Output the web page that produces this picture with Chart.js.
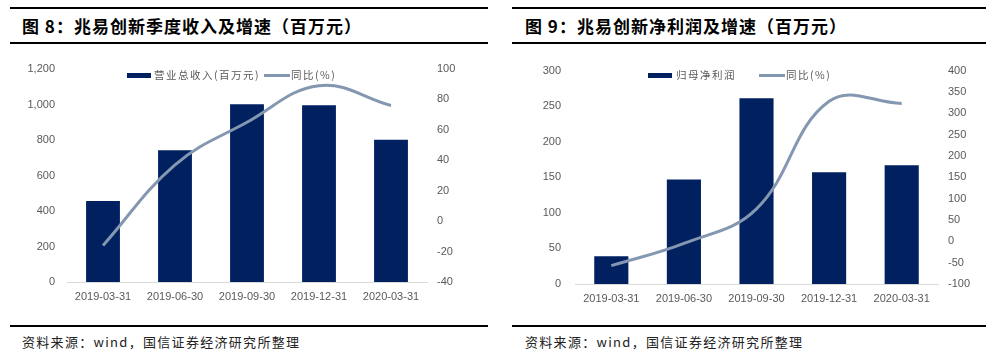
<!DOCTYPE html>
<html><head><meta charset="utf-8">
<script src="https://cdn.jsdelivr.net/npm/chart.js@4/dist/chart.umd.min.js"></script>
<style>
html,body{margin:0;padding:0;background:#fff;}
body{width:986px;height:354px;position:relative;overflow:hidden;font-family:"Noto Sans CJK SC","Liberation Sans",sans-serif;}
.hl{position:absolute;height:2px;background:#000;}
.title{position:absolute;font-weight:bold;font-size:17px;letter-spacing:1px;color:#000;line-height:20px;white-space:nowrap;}
.foot{position:absolute;font-size:13px;color:#222;line-height:16px;white-space:nowrap;letter-spacing:1.3px;}
.cv{position:absolute;top:50px;width:493px;height:270px;}
.lg{position:absolute;font-size:10.5px;color:#595959;line-height:14px;white-space:nowrap;letter-spacing:1.5px;}
.sw{position:absolute;}
</style></head>
<body>
<div class="hl" style="left:10px;width:478px;top:7px"></div>
<div class="hl" style="left:10px;width:478px;top:42px"></div>
<div class="hl" style="left:512px;width:474px;top:7px"></div>
<div class="hl" style="left:512px;width:474px;top:42px"></div>
<div class="hl" style="left:10px;width:478px;top:325px"></div>
<div class="hl" style="left:512px;width:474px;top:325px"></div>
<div class="title" style="left:22px;top:16px">图 8：兆易创新季度收入及增速（百万元）</div>
<div class="title" style="left:525px;top:16px">图 9：兆易创新净利润及增速（百万元）</div>
<div class="foot" style="left:22px;top:334px">资料来源：wind，国信证券经济研究所整理</div>
<div class="foot" style="left:525px;top:334px">资料来源：wind，国信证券经济研究所整理</div>

<div class="cv" style="left:0px"><canvas id="c1" width="493" height="270"></canvas></div>
<div class="cv" style="left:493px"><canvas id="c2" width="493" height="270"></canvas></div>

<div class="sw" style="left:127px;top:73px;width:24px;height:5px;background:#002060"></div>
<div class="lg" style="left:154px;top:68px">营业总收入(百万元)</div>
<div class="sw" style="left:264px;top:74px;width:26px;height:3px;background:#8497B0"></div>
<div class="lg" style="left:291px;top:68px">同比(%)</div>

<div class="sw" style="left:648px;top:73px;width:24px;height:5px;background:#002060"></div>
<div class="lg" style="left:676px;top:68px">归母净利润</div>
<div class="sw" style="left:759px;top:74px;width:26px;height:3px;background:#8497B0"></div>
<div class="lg" style="left:786px;top:68px">同比(%)</div>

<script>
const categories = ['2019-03-31','2019-06-30','2019-09-30','2019-12-31','2020-03-31'];
const revenue = [456, 742, 1001, 996, 802];
const revenueYoY = [-16, 37, 65, 89, 76];
const profit = [39, 147, 261, 157, 167];
const profitYoY = [-57, -5, 76, 328, 323];
const revenueLabel = '营业总收入(百万元)';
const profitLabel = '归母净利润';
const yoyLabel = '同比(%)';

const BAR = '#002060', LINE = '#8497B0', TXT = '#595959';
const tickFont = {family:'"Liberation Sans", Arial, sans-serif', size:11};

function makeChart(id, barData, barLabel, lineData, cfg){
  const ctx = document.getElementById(id);
  return new Chart(ctx, {
    type:'bar',
    data:{
      labels:categories,
      datasets:[
        {type:'line', label:yoyLabel, data:lineData, yAxisID:'y2', borderColor:LINE, borderWidth:3,
         pointRadius:0, tension:0.4, fill:false, order:0},
        {type:'bar', label:barLabel, data:barData, yAxisID:'y', backgroundColor:BAR,
         categoryPercentage:1, barPercentage:0.47, order:1}
      ]
    },
    options:{
      responsive:false, animation:false, devicePixelRatio:1,
      layout:{padding:{top:cfg.top, bottom:cfg.bottom, left:0, right:0}},
      plugins:{legend:{display:false}, tooltip:{enabled:false}},
      scales:{
        x:{grid:{display:false, drawTicks:false}, border:{display:true, color:'#D9D9D9', width:1},
           ticks:{color:TXT, font:tickFont, padding:8, maxRotation:0, autoSkip:false},
           afterFit:(s)=>{s.height=30;}},
        y:{position:'left', min:cfg.yMin, max:cfg.yMax, grid:{display:false, drawTicks:false}, border:{display:false},
           ticks:{stepSize:cfg.yStep, color:TXT, font:tickFont, padding:cfg.lpad,
             callback:(v)=>v.toLocaleString('en-US')},
           afterFit:(s)=>{s.width=cfg.lw;}},
        y2:{position:'right', min:cfg.y2Min, max:cfg.y2Max, grid:{display:false, drawTicks:false}, border:{display:false},
           ticks:{stepSize:cfg.y2Step, color:TXT, font:tickFont, padding:cfg.rpad},
           afterFit:(s)=>{s.width=cfg.rw;}}
      }
    }
  });
}

makeChart('c1', revenue, revenueLabel, revenueYoY,
  {top:19, bottom:8, yMin:0, yMax:1200, yStep:200, y2Min:-40, y2Max:100, y2Step:20, lw:67, rw:66, lpad:12, rpad:10});
makeChart('c2', profit, profitLabel, profitYoY,
  {top:19, bottom:6, yMin:0, yMax:300, yStep:50, y2Min:-100, y2Max:400, y2Step:50, lw:82, rw:48, lpad:14, rpad:10});
</script>
</body></html>
